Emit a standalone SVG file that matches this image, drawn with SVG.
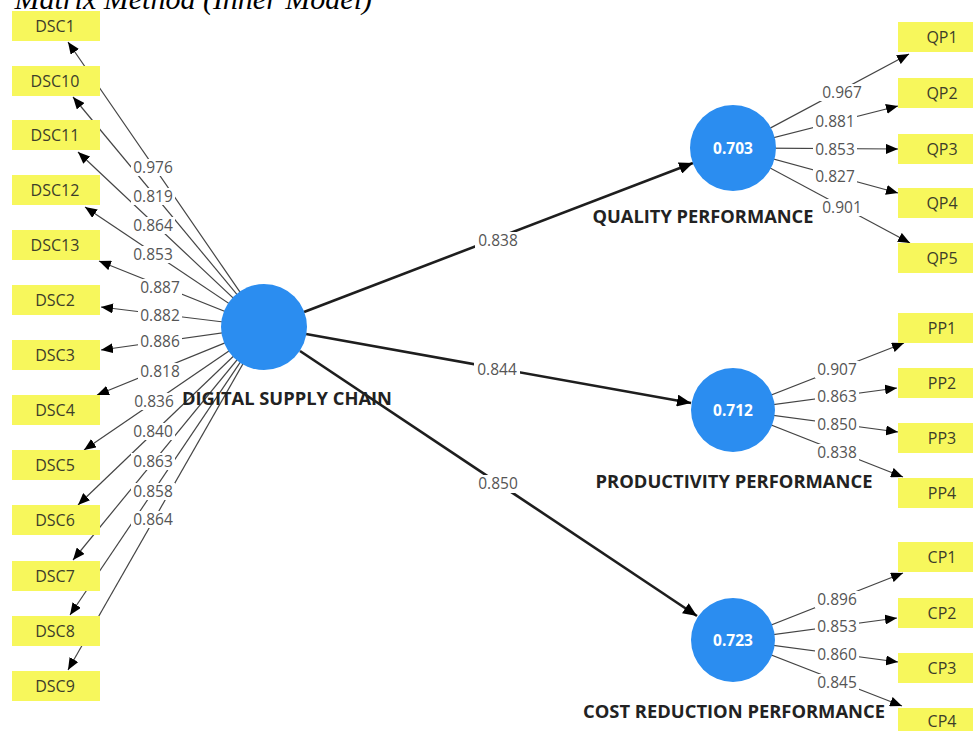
<svg xmlns="http://www.w3.org/2000/svg" width="973" height="731" viewBox="0 0 973 731">
  <style>
    .ind rect { fill: #f7f75c; }
    .ind text { font-family: "Open Sans", "DejaVu Sans", sans-serif; font-size: 16px; fill: #3d3d2a; text-anchor: middle; }
    .lv circle { fill: #2b8df0; }
    .lv .r2 { font-family: "Open Sans", "DejaVu Sans", sans-serif; font-size: 15.5px; font-weight: bold; fill: #ffffff; text-anchor: middle; }
    .lv .name { font-family: "Open Sans", "DejaVu Sans", sans-serif; font-size: 17px; font-weight: bold; fill: #222222; text-anchor: middle; }
    .load { stroke: #444444; stroke-width: 1.2; marker-end: url(#arrowS); }
    .path { stroke: #1e1e1e; stroke-width: 2.6; marker-end: url(#arrowL); }
    .lbl rect { fill: #ffffff; }
    .lbl text { font-family: "Open Sans", "DejaVu Sans", sans-serif; font-size: 15.5px; fill: #555555; text-anchor: middle; }
    .title { font-family: "Liberation Serif", serif; font-style: italic; font-size: 30px; fill: #000000; text-anchor: end; }
  </style>
  <defs>
    <marker id="arrowS" markerUnits="userSpaceOnUse" markerWidth="12" markerHeight="10" refX="12" refY="5" orient="auto">
      <path d="M0,0 L12,5 L0,10 z" fill="#000000"/>
    </marker>
    <marker id="arrowL" markerUnits="userSpaceOnUse" markerWidth="14" markerHeight="12" refX="14" refY="6" orient="auto">
      <path d="M0,0 L14,6 L0,12 z" fill="#000000"/>
    </marker>
  </defs>

  <rect width="973" height="731" fill="#ffffff"/>

  <!-- caption line running past the top edge -->
  <text class="title" x="372" y="9">Matrix Method (Inner Model)</text>

  <g id="connectors">
    <!-- outer loadings: DIGITAL SUPPLY CHAIN -->
    <line class="load" x1="264" y1="327" x2="68" y2="42"/>
    <line class="load" x1="264" y1="327" x2="73" y2="97"/>
    <line class="load" x1="264" y1="327" x2="78" y2="152"/>
    <line class="load" x1="264" y1="327" x2="85" y2="207"/>
    <line class="load" x1="264" y1="327" x2="99" y2="261"/>
    <line class="load" x1="264" y1="327" x2="101" y2="307"/>
    <line class="load" x1="264" y1="327" x2="101" y2="350"/>
    <line class="load" x1="264" y1="327" x2="97" y2="395"/>
    <line class="load" x1="264" y1="327" x2="84" y2="450"/>
    <line class="load" x1="264" y1="327" x2="78" y2="505"/>
    <line class="load" x1="264" y1="327" x2="73" y2="560"/>
    <line class="load" x1="264" y1="327" x2="70" y2="615"/>
    <line class="load" x1="264" y1="327" x2="68" y2="670"/>

    <!-- outer loadings: QUALITY PERFORMANCE -->
    <line class="load" x1="733" y1="148" x2="909" y2="54"/>
    <line class="load" x1="733" y1="148" x2="898" y2="106"/>
    <line class="load" x1="733" y1="148" x2="898" y2="149"/>
    <line class="load" x1="733" y1="148" x2="898" y2="193"/>
    <line class="load" x1="733" y1="148" x2="910" y2="243"/>

    <!-- outer loadings: PRODUCTIVITY PERFORMANCE -->
    <line class="load" x1="733" y1="410" x2="904" y2="343"/>
    <line class="load" x1="733" y1="410" x2="897" y2="388"/>
    <line class="load" x1="733" y1="410" x2="898" y2="432"/>
    <line class="load" x1="733" y1="410" x2="903" y2="477"/>

    <!-- outer loadings: COST REDUCTION PERFORMANCE -->
    <line class="load" x1="733" y1="640" x2="903" y2="573"/>
    <line class="load" x1="733" y1="640" x2="897" y2="618"/>
    <line class="load" x1="733" y1="640" x2="898" y2="662"/>
    <line class="load" x1="733" y1="640" x2="902" y2="706"/>

    <!-- structural paths -->
    <line class="path" x1="304" y1="312" x2="693" y2="163"/>
    <line class="path" x1="306" y1="334" x2="691" y2="403"/>
    <line class="path" x1="300" y1="351" x2="697" y2="616"/>

    <!-- coefficient labels -->
    <g class="lbl">
      <rect x="131" y="159" width="44" height="17"/><text x="153" y="173">0.976</text>
      <rect x="131" y="188" width="44" height="17"/><text x="153" y="202">0.819</text>
      <rect x="131" y="217" width="44" height="17"/><text x="153" y="231">0.864</text>
      <rect x="131" y="246" width="44" height="17"/><text x="153" y="260">0.853</text>
      <rect x="138" y="279" width="44" height="17"/><text x="160" y="293">0.887</text>
      <rect x="138" y="307" width="44" height="17"/><text x="160" y="321">0.882</text>
      <rect x="138" y="333" width="44" height="17"/><text x="160" y="347">0.886</text>
      <rect x="138" y="363" width="44" height="17"/><text x="160" y="377">0.818</text>
      <rect x="132" y="393" width="44" height="17"/><text x="154" y="407">0.836</text>
      <rect x="131" y="423" width="44" height="17"/><text x="153" y="437">0.840</text>
      <rect x="131" y="453" width="44" height="17"/><text x="153" y="467">0.863</text>
      <rect x="131" y="483" width="44" height="17"/><text x="153" y="497">0.858</text>
      <rect x="131" y="511" width="44" height="17"/><text x="153" y="525">0.864</text>

      <rect x="820" y="84" width="44" height="17"/><text x="842" y="98">0.967</text>
      <rect x="813" y="113" width="44" height="17"/><text x="835" y="127">0.881</text>
      <rect x="813" y="141" width="44" height="17"/><text x="835" y="155">0.853</text>
      <rect x="813" y="168" width="44" height="17"/><text x="835" y="182">0.827</text>
      <rect x="820" y="199" width="44" height="17"/><text x="842" y="213">0.901</text>

      <rect x="815" y="361" width="44" height="17"/><text x="837" y="375">0.907</text>
      <rect x="815" y="388" width="44" height="17"/><text x="837" y="402">0.863</text>
      <rect x="815" y="416" width="44" height="17"/><text x="837" y="430">0.850</text>
      <rect x="815" y="444" width="44" height="17"/><text x="837" y="458">0.838</text>

      <rect x="815" y="591" width="44" height="17"/><text x="837" y="605">0.896</text>
      <rect x="815" y="618" width="44" height="17"/><text x="837" y="632">0.853</text>
      <rect x="815" y="646" width="44" height="17"/><text x="837" y="660">0.860</text>
      <rect x="815" y="674" width="44" height="17"/><text x="837" y="688">0.845</text>

      <rect x="475" y="232" width="46" height="18"/><text x="498" y="246">0.838</text>
      <rect x="474" y="361" width="46" height="18"/><text x="497" y="375">0.844</text>
      <rect x="475" y="475" width="46" height="18"/><text x="498" y="489">0.850</text>
    </g>
  </g>

  <!-- indicators of DIGITAL SUPPLY CHAIN -->
  <g id="DSC1" class="ind"><rect x="12" y="11" width="88" height="30"/><text x="55" y="32">DSC1</text></g>
  <g id="DSC10" class="ind"><rect x="12" y="66" width="88" height="30"/><text x="55" y="87">DSC10</text></g>
  <g id="DSC11" class="ind"><rect x="12" y="120" width="88" height="30"/><text x="55" y="141">DSC11</text></g>
  <g id="DSC12" class="ind"><rect x="12" y="175" width="88" height="30"/><text x="55" y="196">DSC12</text></g>
  <g id="DSC13" class="ind"><rect x="12" y="230" width="88" height="30"/><text x="55" y="251">DSC13</text></g>
  <g id="DSC2" class="ind"><rect x="12" y="285" width="88" height="30"/><text x="55" y="306">DSC2</text></g>
  <g id="DSC3" class="ind"><rect x="12" y="340" width="88" height="30"/><text x="55" y="361">DSC3</text></g>
  <g id="DSC4" class="ind"><rect x="12" y="395" width="88" height="30"/><text x="55" y="416">DSC4</text></g>
  <g id="DSC5" class="ind"><rect x="12" y="450" width="88" height="30"/><text x="55" y="471">DSC5</text></g>
  <g id="DSC6" class="ind"><rect x="12" y="505" width="88" height="30"/><text x="55" y="526">DSC6</text></g>
  <g id="DSC7" class="ind"><rect x="12" y="561" width="88" height="30"/><text x="55" y="582">DSC7</text></g>
  <g id="DSC8" class="ind"><rect x="12" y="616" width="88" height="30"/><text x="55" y="637">DSC8</text></g>
  <g id="DSC9" class="ind"><rect x="12" y="671" width="88" height="30"/><text x="55" y="692">DSC9</text></g>

  <!-- indicators of the outcome constructs -->
  <g id="QP1" class="ind"><rect x="898" y="22" width="88" height="30"/><text x="942" y="43">QP1</text></g>
  <g id="QP2" class="ind"><rect x="898" y="78" width="88" height="30"/><text x="942" y="99">QP2</text></g>
  <g id="QP3" class="ind"><rect x="898" y="134" width="88" height="30"/><text x="942" y="155">QP3</text></g>
  <g id="QP4" class="ind"><rect x="898" y="188" width="88" height="30"/><text x="942" y="209">QP4</text></g>
  <g id="QP5" class="ind"><rect x="898" y="243" width="88" height="30"/><text x="942" y="264">QP5</text></g>

  <g id="PP1" class="ind"><rect x="898" y="313" width="88" height="30"/><text x="942" y="334">PP1</text></g>
  <g id="PP2" class="ind"><rect x="898" y="368" width="88" height="30"/><text x="942" y="389">PP2</text></g>
  <g id="PP3" class="ind"><rect x="898" y="423" width="88" height="30"/><text x="942" y="444">PP3</text></g>
  <g id="PP4" class="ind"><rect x="898" y="478" width="88" height="30"/><text x="942" y="499">PP4</text></g>

  <g id="CP1" class="ind"><rect x="898" y="542" width="88" height="30"/><text x="942" y="563">CP1</text></g>
  <g id="CP2" class="ind"><rect x="898" y="598" width="88" height="30"/><text x="942" y="619">CP2</text></g>
  <g id="CP3" class="ind"><rect x="898" y="653" width="88" height="30"/><text x="942" y="674">CP3</text></g>
  <g id="CP4" class="ind"><rect x="898" y="708" width="88" height="30"/><text x="942" y="727">CP4</text></g>

  <!-- latent constructs -->
  <g id="DSC" class="lv">
    <circle cx="264" cy="327" r="43"/>
    <text class="name" x="287" y="405" textLength="210" lengthAdjust="spacingAndGlyphs">DIGITAL SUPPLY CHAIN</text>
  </g>
  <g id="QP" class="lv">
    <circle cx="733" cy="148" r="43"/>
    <text class="r2" x="733" y="154">0.703</text>
    <text class="name" x="703" y="223" textLength="221" lengthAdjust="spacingAndGlyphs">QUALITY PERFORMANCE</text>
  </g>
  <g id="PP" class="lv">
    <circle cx="733" cy="410" r="42"/>
    <text class="r2" x="733" y="416">0.712</text>
    <text class="name" x="734" y="488" textLength="277" lengthAdjust="spacingAndGlyphs">PRODUCTIVITY PERFORMANCE</text>
  </g>
  <g id="CP" class="lv">
    <circle cx="733" cy="640" r="42"/>
    <text class="r2" x="733" y="646">0.723</text>
    <text class="name" x="734" y="718" textLength="302" lengthAdjust="spacingAndGlyphs">COST REDUCTION PERFORMANCE</text>
  </g>
</svg>
